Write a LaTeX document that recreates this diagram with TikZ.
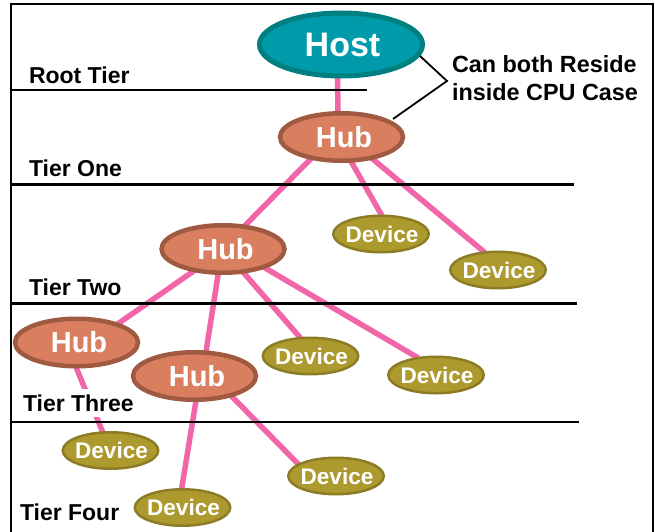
\documentclass[tikz,border=0pt]{standalone}
\usepackage{fontspec}
\setmainfont{Liberation Sans}
\usetikzlibrary{shapes.geometric,backgrounds}
\definecolor{hostfill}{HTML}{009BAA}
\definecolor{hostline}{HTML}{007F80}
\definecolor{hubfill}{HTML}{D97F60}
\definecolor{hubline}{HTML}{A05A42}
\definecolor{devfill}{HTML}{AD9A2F}
\definecolor{devline}{HTML}{8C7C25}
\definecolor{wire}{HTML}{F066A8}
% zero-size text box, so that the ellipse keeps its set size; #1 nudges the text to the right
\newcommand{\bubtext}[2]{\makebox[0pt]{\hspace{#1}\smash{\raisebox{-0.36em}{#2}}}}
\tikzset{
  bubble/.style={ellipse,inner sep=0pt,outer sep=0pt,text=white,font=\bfseries},
  hostnode/.style={bubble,draw=hostline,fill=hostfill,line width=5pt,minimum width=163pt,minimum height=63pt,font=\fontsize{34}{36}\selectfont\bfseries},
  hubnode/.style={bubble,draw=hubline,fill=hubfill,line width=4.5pt,minimum width=123pt,minimum height=47.5pt,font=\fontsize{29}{31}\selectfont\bfseries},
  devnode/.style={bubble,draw=devline,fill=devfill,line width=2.5pt,minimum width=95.5pt,minimum height=36.5pt,font=\fontsize{22.6}{24}\selectfont\bfseries},
  wireline/.style={draw=wire,line width=5.5pt},
  tierline/.style={draw=black,line width=2.4pt},
  calloutline/.style={draw=black,line width=1.8pt,line join=miter},
  tierlabel/.style={anchor=west,inner sep=0pt,outer sep=0pt,font=\fontsize{23}{25}\selectfont\bfseries},
  calloutlabel/.style={anchor=west,inner sep=0pt,outer sep=0pt,font=\fontsize{23.4}{25}\selectfont\bfseries},
}
\begin{document}
\begin{tikzpicture}[x=1pt,y=-1pt]
\useasboundingbox (0,0) rectangle (655,532);
\draw[line width=2.6pt] (11,545) -- (11,4) -- (653,4) -- (653,545);
% tier lines
\coordinate (r0) at (11,90.3);  \coordinate (r1) at (367,90.3);
\coordinate (o0) at (11,184.3); \coordinate (o1) at (574,184.3);
\coordinate (t0) at (11,303.3); \coordinate (t1) at (577,303.3);
\coordinate (h0) at (11,422); \coordinate (h1) at (579,422);
\draw[tierline] (r0) -- (r1);
\draw[tierline] (o0) -- (o1);
\draw[tierline] (t0) -- (t1);
\draw[tierline] (h0) -- (h1);
% nodes
\node[hostnode] (host) at (341,44.5) {\bubtext{3pt}{Host}};
\node[hubnode] (hubA) at (341.5,137) {\bubtext{5pt}{Hub}};
\node[hubnode] (hubB) at (223,249) {\bubtext{5pt}{Hub}};
\node[hubnode] (hubC) at (76.5,342.5) {\bubtext{5pt}{Hub}};
\node[hubnode] (hubD) at (194.5,376) {\bubtext{5pt}{Hub}};
\node[devnode] (devA) at (381,234) {\bubtext{2pt}{Device}};
\node[devnode] (devB) at (498,270) {\bubtext{2pt}{Device}};
\node[devnode] (devC) at (310.5,356) {\bubtext{2pt}{Device}};
\node[devnode] (devD) at (436,375) {\bubtext{2pt}{Device}};
\node[devnode] (devE) at (110.5,450.5) {\bubtext{2pt}{Device}};
\node[devnode] (devF) at (336,476) {\bubtext{2pt}{Device}};
\node[devnode] (devG) at (182.5,507.5) {\bubtext{2pt}{Device}};
% labels
\node[tierlabel] (lroot) at (29,75) {Root Tier};
\node[tierlabel] (lone) at (29,168) {Tier One};
\node[tierlabel] (ltwo) at (29,287) {Tier Two};
\node[tierlabel,fill=white,inner ysep=5.5pt] (lthree) at (23,403) {Tier Three};
\node[tierlabel] (lfour) at (20,512) {Tier Four};
\node[calloutlabel] (cana) at (452,64) {Can both Reside};
\node[calloutlabel] (canb) at (452,92) {inside CPU Case};
% callout
\coordinate (elbow) at (447,81);
\draw[calloutline] ([xshift=79pt,yshift=-11.5pt]host.center) -- (elbow) -- ([xshift=51.5pt,yshift=18pt]hubA.center);
% connectors
\begin{pgfonlayer}{background}
\draw[wireline] ([xshift=-3.5pt]host.south) -- ([xshift=-3.5pt]hubA.north);
\draw[wireline] (hubA.-69) -- (devA.87);
\draw[wireline] (hubA.-35) -- (devB.127);
\draw[wireline] (hubA.215) -- (hubB.47);
\draw[wireline] (hubB.217) -- (hubC.24);
\draw[wireline] (hubB.-101) -- (hubD.64);
\draw[wireline] (hubB.-49) -- (devC.119);
\draw[wireline] (hubB.-24) -- (devD.136);
\draw[wireline] (hubC.-92) -- (devE.113);
\draw[wireline] (hubD.-28) -- (devF.163);
\draw[wireline] (hubD.-86) -- (devG.93);
\end{pgfonlayer}
\end{tikzpicture}
\end{document}
